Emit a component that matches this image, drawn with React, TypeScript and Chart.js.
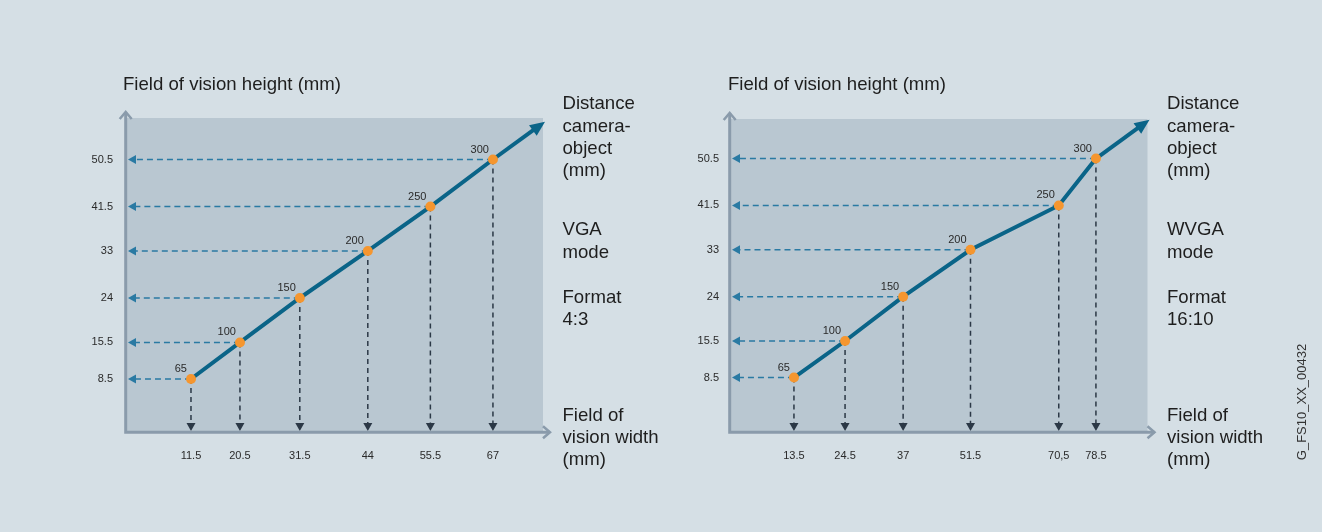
import React, { useEffect, useRef } from "react";
import { Chart, registerables } from "chart.js";

Chart.register(...registerables);

// ---- data ----
const distances = [65, 100, 150, 200, 250, 300];

const vgaWidths = [11.5, 20.5, 31.5, 44, 55.5, 67];
const vgaHeights = [8.5, 15.5, 24, 33, 41.5, 50.5];
const vgaWidthLabels = ["11.5", "20.5", "31.5", "44", "55.5", "67"];
const vgaHeightLabels = ["8.5", "15.5", "24", "33", "41.5", "50.5"];

const wvgaWidths = [13.5, 24.5, 37, 51.5, 70.5, 78.5];
const wvgaHeights = [8.5, 15.5, 24, 33, 41.5, 50.5];
const wvgaWidthLabels = ["13.5", "24.5", "37", "51.5", "70,5", "78.5"];
const wvgaHeightLabels = ["8.5", "15.5", "24", "33", "41.5", "50.5"];

const yTitle = "Field of vision height (mm)";
const distanceLabel = ["Distance", "camera-", "object", "(mm)"];
const widthTitle = ["Field of", "vision width", "(mm)"];
const vgaMode = ["VGA", "mode"];
const vgaFormat = ["Format", "4:3"];
const wvgaMode = ["WVGA", "mode"];
const wvgaFormat = ["Format", "16:10"];
const figureId = "G_FS10_XX_00432";

// ---- styles ----
const FONT = "'Liberation Sans', Arial, sans-serif";
const BG = "#d5dfe5";
const PLOT_BG = "#b9c7d1";
const AXIS = "#8a9bab";
const MAIN = "#0a6488";
const ORANGE = "#f5962f";
const H_DASH = "#2a7aa3";
const V_DASH = "#2b3846";
const TEXT = "#1e1e1e";
const SMALL_TEXT = "#2a2a2a";

function arrowHead(ctx: CanvasRenderingContext2D, tx: number, ty: number, dx: number, dy: number, len: number, half: number, color: string) {
  const n = Math.hypot(dx, dy);
  const ux = dx / n, uy = dy / n;
  const bx = tx - ux * len, by = ty - uy * len;
  ctx.beginPath();
  ctx.moveTo(tx, ty);
  ctx.lineTo(bx - uy * half, by + ux * half);
  ctx.lineTo(bx + uy * half, by - ux * half);
  ctx.closePath();
  ctx.fillStyle = color;
  ctx.fill();
}

const diagramPlugin = {
  id: "diagram",
  beforeDraw(chart: any) {
    const { ctx, chartArea: a } = chart;
    ctx.save();
    ctx.fillStyle = PLOT_BG;
    ctx.fillRect(a.left, a.top, a.right - a.left, a.bottom - a.top);
    ctx.restore();
  },
  beforeDatasetsDraw(chart: any) {
    const { ctx, chartArea: a } = chart;
    const pts = chart.getDatasetMeta(0).data;
    ctx.save();
    pts.forEach((p: any) => {
      ctx.setLineDash([6, 4]);
      ctx.lineWidth = 1.5;
      ctx.strokeStyle = H_DASH;
      ctx.beginPath();
      ctx.moveTo(p.x, p.y);
      ctx.lineTo(a.left + 6, p.y);
      ctx.stroke();
      ctx.setLineDash([]);
      arrowHead(ctx, a.left + 1, p.y, -1, 0, 8, 4.5, H_DASH);
      ctx.setLineDash([5, 4]);
      ctx.strokeStyle = V_DASH;
      ctx.beginPath();
      ctx.moveTo(p.x, p.y);
      ctx.lineTo(p.x, a.bottom - 6);
      ctx.stroke();
      ctx.setLineDash([]);
      arrowHead(ctx, p.x, a.bottom, 0, 1, 8, 4.5, V_DASH);
    });
    ctx.strokeStyle = AXIS;
    ctx.lineWidth = 3;
    ctx.lineCap = "butt";
    const ax = a.left - 1.3;
    const ay = a.bottom + 1.3;
    ctx.beginPath();
    ctx.moveTo(ax, ay + 1.5);
    ctx.lineTo(ax, a.top - 6);
    ctx.moveTo(ax - 1.5, ay);
    ctx.lineTo(a.right + 7, ay);
    ctx.stroke();
    ctx.lineWidth = 2.5;
    ctx.lineJoin = "miter";
    ctx.beginPath();
    ctx.moveTo(ax - 6, a.top - 6 + 7);
    ctx.lineTo(ax, a.top - 6);
    ctx.lineTo(ax + 6, a.top - 6 + 7);
    ctx.moveTo(a.right + 7 - 7, ay - 6);
    ctx.lineTo(a.right + 7, ay);
    ctx.lineTo(a.right + 7 - 7, ay + 6);
    ctx.stroke();
    const first = pts[0];
    const last = pts[pts.length - 1];
    const dx = last.x - first.x;
    const dy = last.y - first.y;
    const tipX = a.right + 2;
    const tipY = last.y + (dy / dx) * (tipX - last.x);
    const n = Math.hypot(dx, dy);
    const baseX = tipX - (dx / n) * 12;
    const baseY = tipY - (dy / n) * 12;
    ctx.strokeStyle = MAIN;
    ctx.lineWidth = 4;
    ctx.beginPath();
    ctx.moveTo(last.x, last.y);
    ctx.lineTo(baseX, baseY);
    ctx.stroke();
    arrowHead(ctx, tipX, tipY, dx, dy, 15, 6.5, MAIN);
    ctx.restore();
  },
  afterDatasetsDraw(chart: any) {
    const { ctx } = chart;
    const pts = chart.getDatasetMeta(0).data;
    const labels = chart.data.datasets[0].pointLabels as number[];
    ctx.save();
    ctx.font = `11px ${FONT}`;
    ctx.fillStyle = SMALL_TEXT;
    ctx.textAlign = "right";
    ctx.textBaseline = "middle";
    pts.forEach((p: any, i: number) => {
      ctx.fillText(String(labels[i]), p.x - 4, p.y - 10);
    });
    ctx.restore();
  },
};

type DiagramProps = {
  widths: number[];
  heights: number[];
  widthLabels: string[];
  heightLabels: string[];
  xMin: number;
  xMax: number;
  yMin: number;
  yMax: number;
  padding: { left: number; right: number; top: number; bottom: number };
  yLabelPad: number;
  left: number;
};

function Diagram(props: DiagramProps) {
  const ref = useRef<HTMLCanvasElement>(null);
  useEffect(() => {
    if (!ref.current) return;
    const tickFont = { family: FONT, size: 11 };
    const chart = new Chart(ref.current, {
      type: "line",
      data: {
        datasets: [
          {
            data: props.widths.map((w, i) => ({ x: w, y: props.heights[i] })),
            pointLabels: distances,
            borderColor: MAIN,
            borderWidth: 4,
            pointRadius: 5,
            pointBackgroundColor: ORANGE,
            pointBorderWidth: 0,
            tension: 0,
            fill: false,
          } as any,
        ],
      },
      options: {
        responsive: false,
        animation: false,
        events: [],
        layout: { padding: props.padding },
        plugins: { legend: { display: false }, tooltip: { enabled: false }, title: { display: false } },
        scales: {
          x: {
            type: "linear",
            min: props.xMin,
            max: props.xMax,
            grid: { display: false, drawTicks: false },
            border: { display: false },
            afterBuildTicks: (scale: any) => {
              scale.ticks = props.widths.map((v) => ({ value: v }));
            },
            afterFit: (scale: any) => {
              scale.height = 40;
            },
            ticks: {
              autoSkip: false,
              maxRotation: 0,
              padding: 18,
              font: tickFont,
              color: SMALL_TEXT,
              callback: (_v: any, i: number) => props.widthLabels[i],
            },
          },
          y: {
            type: "linear",
            min: props.yMin,
            max: props.yMax,
            grid: { display: false, drawTicks: false },
            border: { display: false },
            afterBuildTicks: (scale: any) => {
              scale.ticks = props.heights.map((v) => ({ value: v }));
            },
            afterFit: (scale: any) => {
              scale.width = 40;
            },
            ticks: {
              autoSkip: false,
              padding: props.yLabelPad,
              font: tickFont,
              color: SMALL_TEXT,
              callback: (_v: any, i: number) => props.heightLabels[i],
            },
          },
        },
      } as any,
      plugins: [diagramPlugin],
    });
    return () => chart.destroy();
  }, []);
  return (
    <canvas
      ref={ref}
      width={661}
      height={532}
      style={{ position: "absolute", left: props.left, top: 0, width: 661, height: 532 }}
    />
  );
}

function TextBlock({ lines, left, top }: { lines: string[]; left: number; top: number }) {
  return (
    <div
      style={{
        position: "absolute",
        left,
        top,
        fontSize: 18.6,
        lineHeight: "22.2px",
        color: TEXT,
        whiteSpace: "nowrap",
      }}
    >
      {lines.map((l, i) => (
        <div key={i}>{l}</div>
      ))}
    </div>
  );
}

export default function App() {
  return (
    <div
      style={{
        position: "fixed",
        left: 0,
        top: 0,
        width: 1322,
        height: 532,
        background: BG,
        overflow: "hidden",
        fontFamily: FONT,
      }}
    >
      <Diagram
        widths={vgaWidths}
        heights={vgaHeights}
        widthLabels={vgaWidthLabels}
        heightLabels={vgaHeightLabels}
        xMin={-0.26}
        xMax={76.2}
        yMin={-1.45}
        yMax={58.44}
        padding={{ left: 87, right: 118, top: 118, bottom: 61 }}
        yLabelPad={14}
        left={0}
      />
      <Diagram
        widths={wvgaWidths}
        heights={wvgaHeights}
        widthLabels={wvgaWidthLabels}
        heightLabels={wvgaHeightLabels}
        xMin={-0.05}
        xMax={89.6}
        yMin={-1.76}
        yMax={58.08}
        padding={{ left: 30, right: 174.5, top: 119, bottom: 61 }}
        yLabelPad={12}
        left={661}
      />
      <div style={{ position: "absolute", left: 123, top: 75, fontSize: 18.6, lineHeight: "18.6px", color: TEXT, whiteSpace: "nowrap" }}>
        {yTitle}
      </div>
      <div style={{ position: "absolute", left: 728, top: 75, fontSize: 18.6, lineHeight: "18.6px", color: TEXT, whiteSpace: "nowrap" }}>
        {yTitle}
      </div>
      <TextBlock lines={distanceLabel} left={562.5} top={92.3} />
      <TextBlock lines={vgaMode} left={562.5} top={218.3} />
      <TextBlock lines={vgaFormat} left={562.5} top={285.5} />
      <TextBlock lines={widthTitle} left={562.5} top={404} />
      <TextBlock lines={distanceLabel} left={1167} top={92.3} />
      <TextBlock lines={wvgaMode} left={1167} top={218.3} />
      <TextBlock lines={wvgaFormat} left={1167} top={285.5} />
      <TextBlock lines={widthTitle} left={1167} top={404} />
      <div
        style={{
          position: "absolute",
          left: 1301,
          top: 402,
          transform: "translate(-50%, -50%) rotate(-90deg)",
          fontSize: 13,
          lineHeight: "13px",
          color: "#333",
          whiteSpace: "nowrap",
        }}
      >
        {figureId}
      </div>
    </div>
  );
}
